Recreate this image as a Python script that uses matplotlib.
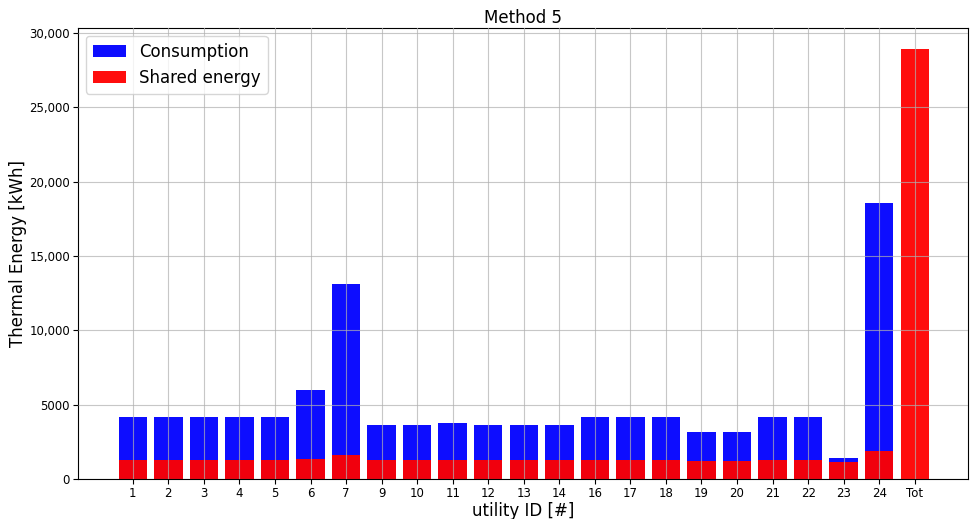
import matplotlib
matplotlib.use('Agg')
import matplotlib.pyplot as plt
import numpy as np

utility_ids = ['1', '2', '3', '4', '5', '6', '7', '9', '10', '11', '12', '13', '14',
               '16', '17', '18', '19', '20', '21', '22', '23', '24', 'Tot']
consumption = [4170, 4170, 4170, 4170, 4170, 5985, 13140, 3655, 3655, 3765, 3655, 3655, 3655,
               4170, 4170, 4170, 3160, 3160, 4170, 4170, 1410, 18565, 0]
shared = [1280, 1280, 1280, 1280, 1280, 1345, 1615, 1280, 1280, 1280, 1280, 1280, 1280,
          1280, 1280, 1280, 1210, 1210, 1280, 1280, 1165, 1885, 28925]

ytick_vals = [0, 5000, 10000, 15000, 20000, 25000, 30000]
ytick_labels = ['0', '5000', '10,000', '15,000', '20,000', '25,000', '30,000']

fig, ax = plt.subplots(figsize=(9.71, 5.19), dpi=100)
x = np.arange(len(utility_ids))

ax.bar(x, consumption, width=0.8, color='blue', alpha=0.95, label='Consumption')
ax.bar(x, shared, width=0.8, color='red', alpha=0.95, label='Shared energy')

ax.set_xticks(x)
ax.set_xticklabels(utility_ids)
ax.set_yticks(ytick_vals)
ax.set_yticklabels(ytick_labels)
ax.tick_params(labelsize=8.5, pad=2)
ax.set_xlim(-1.55, 23.5)
ax.set_ylim(0, 30370)
ax.grid(True, color='#b0b0b0', alpha=0.7)
ax.set_axisbelow(False)

ax.set_title('Method 5', fontsize=12, pad=3)
ax.set_xlabel('utility ID [#]', fontsize=12, labelpad=2)
ax.set_ylabel('Thermal Energy [kWh]', fontsize=12, labelpad=2)
ax.legend(loc='upper left', fontsize=12)

plt.subplots_adjust(left=0.08, right=0.997, top=0.947, bottom=0.077)
plt.savefig('out.png')
